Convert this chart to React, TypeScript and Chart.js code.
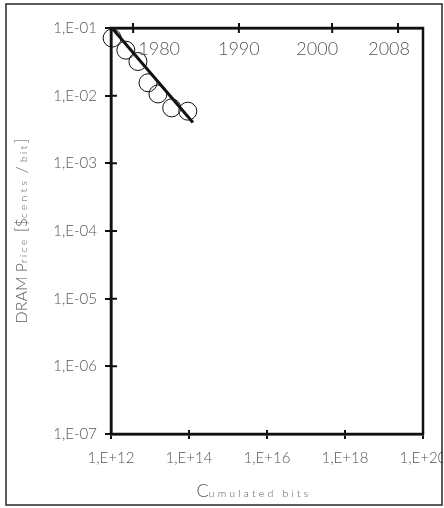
import React, { useEffect, useRef } from 'react';
import { Chart, registerables } from 'chart.js';

Chart.register(...registerables);

// ---- data ----
const cumulatedBits = [1.07e12, 2.4e12, 4.9e12, 8.9e12, 1.6e13, 3.6e13, 9.3e13];
const pricePerBit = [0.071, 0.047, 0.032, 0.0155, 0.0106, 0.0066, 0.0059];
const fitBits = [1.06e12, 1.26e14];
const fitPrice = [0.1, 0.004];
const yearLabels = ['1980', '1990', '2000', '2008'];
const yearBits = [3.7e12, 1.9e15, 4.7e17, 2.3e19];
const xTickValues = [1e12, 1e14, 1e16, 1e18, 1e20];
const xTickLabels = ['1,E+12', '1,E+14', '1,E+16', '1,E+18', '1,E+20'];
const yTickValues = [1e-7, 1e-6, 1e-5, 1e-4, 1e-3, 1e-2, 1e-1];
const yTickLabels = ['1,E-07', '1,E-06', '1,E-05', '1,E-04', '1,E-03', '1,E-02', '1,E-01'];

const FONT = 'Lato, "Liberation Sans", sans-serif';
const TEXT = '#555';
const INK = '#111';
const yearLabelShift = [26, 0, -15, -9];

type Seg = { text: string; size: number; ls: number };

function drawSegments(ctx: CanvasRenderingContext2D, segs: Seg[], x: number, y: number, angle: number) {
  ctx.save();
  ctx.translate(x, y);
  ctx.rotate(angle);
  ctx.fillStyle = TEXT;
  ctx.textBaseline = 'alphabetic';
  ctx.textAlign = 'left';
  const widths = segs.map((s) => {
    ctx.font = `300 ${s.size}px ${FONT}`;
    (ctx as any).letterSpacing = `${s.ls}px`;
    return ctx.measureText(s.text).width;
  });
  const total = widths.reduce((a, b) => a + b, 0);
  let cx = -total / 2;
  segs.forEach((s, i) => {
    ctx.font = `300 ${s.size}px ${FONT}`;
    (ctx as any).letterSpacing = `${s.ls}px`;
    ctx.fillText(s.text, cx, 0);
    cx += widths[i];
  });
  (ctx as any).letterSpacing = '0px';
  ctx.restore();
}

const deco = {
  id: 'deco',
  beforeDraw(chart: any) {
    const { ctx } = chart;
    ctx.save();
    ctx.fillStyle = '#fff';
    ctx.fillRect(0, 0, chart.width, chart.height);
    ctx.restore();
  },
  afterDraw(chart: any) {
    const { ctx, chartArea: a, scales } = chart;
    ctx.save();
    ctx.strokeStyle = INK;
    ctx.lineWidth = 2.5;
    ctx.strokeRect(a.left, a.top, a.right - a.left, a.bottom - a.top);
    ctx.lineWidth = 2;
    ctx.beginPath();
    yTickValues.forEach((v) => {
      const p = scales.y.getPixelForValue(v);
      ctx.moveTo(a.left, p);
      ctx.lineTo(a.left + 6, p);
    });
    xTickValues.forEach((v) => {
      const p = scales.x.getPixelForValue(v);
      ctx.moveTo(p, a.bottom);
      ctx.lineTo(p, a.bottom - 4);
    });
    yearBits.forEach((v) => {
      const p = scales.x2.getPixelForValue(v);
      ctx.moveTo(p, a.top);
      ctx.lineTo(p, a.top + 5);
    });
    ctx.stroke();

    ctx.fillStyle = TEXT;
    ctx.font = `300 18px ${FONT}`;
    ctx.textAlign = 'center';
    ctx.textBaseline = 'middle';
    yearBits.forEach((v, i) => {
      const p = scales.x2.getPixelForValue(v);
      ctx.fillText(yearLabels[i], p + yearLabelShift[i], a.top + 21);
    });

    drawSegments(ctx, [
      { text: 'C', size: 18, ls: 0 },
      { text: 'umulated bits', size: 10.5, ls: 3.2 },
    ], 254, 497, 0);

    drawSegments(ctx, [
      { text: 'DRAM P', size: 16, ls: 0 },
      { text: 'rice ', size: 10, ls: 2.5 },
      { text: '[$', size: 16, ls: 0 },
      { text: 'cents', size: 10, ls: 3.5 },
      { text: ' / ', size: 16, ls: 0 },
      { text: 'bit', size: 10, ls: 2.5 },
      { text: ']', size: 16, ls: 0 },
    ], 27, 231, -Math.PI / 2);

    ctx.fillStyle = '#fff';
    ctx.fillRect(443, 0, 10, chart.height);
    ctx.strokeStyle = '#333';
    ctx.lineWidth = 1.6;
    ctx.strokeRect(6, 4, 436, 501);
    ctx.restore();
  },
};

export default function App() {
  const ref = useRef<HTMLCanvasElement | null>(null);
  useEffect(() => {
    document.body.style.margin = '0';
    const canvas = ref.current!;
    const tickFont = { family: FONT, size: 15, weight: '300' as any };
    const noPad = (s: any) => { s.paddingLeft = 0; s.paddingRight = 0; s.paddingTop = 0; s.paddingBottom = 0; };
    const chart = new Chart(canvas, {
      type: 'scatter',
      data: {
        datasets: [
          {
            label: 'price',
            data: cumulatedBits.map((b, i) => ({ x: b, y: pricePerBit[i] })),
            pointRadius: 9,
            pointBorderWidth: 1,
            pointBackgroundColor: 'rgba(0,0,0,0)',
            pointBorderColor: INK,
            showLine: false,
            clip: false as any,
          },
          {
            label: 'fit',
            data: fitBits.map((b, i) => ({ x: b, y: fitPrice[i] })),
            showLine: true,
            borderColor: INK,
            borderWidth: 3,
            pointRadius: 0,
            clip: false as any,
          },
        ],
      },
      options: {
        animation: false,
        responsive: false,
        devicePixelRatio: 1,
        layout: { padding: { left: 0, top: 0, right: 21, bottom: 0 } },
        plugins: { legend: { display: false }, tooltip: { enabled: false } },
        scales: {
          x: {
            type: 'logarithmic',
            position: 'bottom',
            min: 1e12,
            max: 1e20,
            afterBuildTicks: (s: any) => { s.ticks = xTickValues.map((v) => ({ value: v })); },
            afterFit: (s: any) => { s.height = 74; noPad(s); },
            grid: { drawOnChartArea: false, drawTicks: true, tickLength: 5, color: INK, lineWidth: 2 },
            border: { display: true, color: INK, width: 2.5 },
            ticks: {
              color: TEXT, font: tickFont, padding: 10, maxRotation: 0, autoSkip: false,
              callback: (_v: any, i: number) => xTickLabels[i],
            },
          },
          x2: {
            type: 'logarithmic',
            position: 'top',
            min: 1e12,
            max: 1e20,
            afterBuildTicks: (s: any) => { s.ticks = yearBits.map((v) => ({ value: v })); },
            afterFit: (s: any) => { s.height = 28; noPad(s); },
            grid: { drawOnChartArea: false, drawTicks: true, tickLength: 5, color: INK, lineWidth: 2 },
            border: { display: true, color: INK, width: 2.5 },
            ticks: { display: false },
          },
          y: {
            type: 'logarithmic',
            position: 'left',
            min: 1e-7,
            max: 1e-1,
            afterBuildTicks: (s: any) => { s.ticks = yTickValues.map((v) => ({ value: v })); },
            afterFit: (s: any) => { s.width = 111; noPad(s); },
            grid: { drawOnChartArea: false, drawTicks: true, tickLength: 6, color: INK, lineWidth: 2 },
            border: { display: true, color: INK, width: 2.5 },
            ticks: {
              color: TEXT, font: tickFont, padding: 8, autoSkip: false,
              callback: (_v: any, i: number) => yTickLabels[i],
            },
          },
        },
      },
      plugins: [deco],
    });
    return () => chart.destroy();
  }, []);
  return <canvas ref={ref} width={444} height={508} style={{ display: 'block' }} />;
}
